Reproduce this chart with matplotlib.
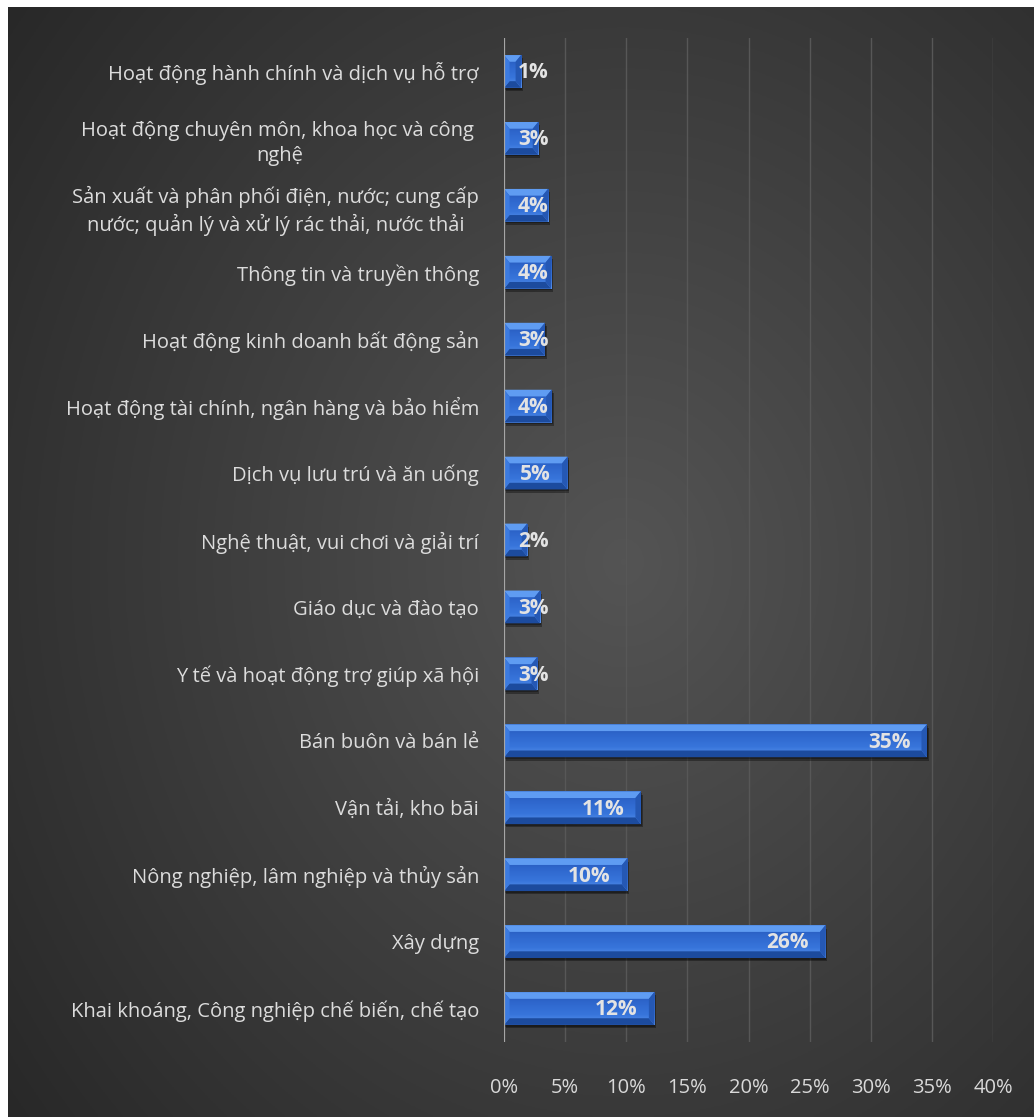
import numpy as np
import matplotlib
matplotlib.use('Agg')
import matplotlib.pyplot as plt
from matplotlib.patches import Polygon, Rectangle

plt.rcParams['font.family'] = ['Open Sans', 'DejaVu Sans']

# categories listed top to bottom
categories = [
    "Hoạt động hành chính và dịch vụ hỗ trợ",
    "Hoạt động chuyên môn, khoa học và công \nnghệ",
    "Sản xuất và phân phối điện, nước; cung cấp\nnước; quản lý và xử lý rác thải, nước thải",
    "Thông tin và truyền thông",
    "Hoạt động kinh doanh bất động sản",
    "Hoạt động tài chính, ngân hàng và bảo hiểm",
    "Dịch vụ lưu trú và ăn uống",
    "Nghệ thuật, vui chơi và giải trí",
    "Giáo dục và đào tạo",
    "Y tế và hoạt động trợ giúp xã hội",
    "Bán buôn và bán lẻ",
    "Vận tải, kho bãi",
    "Nông nghiệp, lâm nghiệp và thủy sản",
    "Xây dựng",
    "Khai khoáng, Công nghiệp chế biến, chế tạo",
]
values = [1.4, 2.8, 3.6, 3.85, 3.35, 3.9, 5.2, 1.9, 2.95, 2.7, 34.6, 11.2, 10.1, 26.3, 12.3]
xticks = [0, 5, 10, 15, 20, 25, 30, 35, 40]

W, H, DPI = 1034, 1117, 100
fig = plt.figure(figsize=(W / DPI, H / DPI), dpi=DPI)
fig.patch.set_facecolor('white')

# dark radial backdrop
bg = fig.add_axes([8 / W, 0, 1 - 8 / W, 1 - 7 / H])
bg.set_axis_off()
gx, gy = np.meshgrid(np.linspace(0, 1, 400), np.linspace(0, 1, 400))
r = np.sqrt(((gx - 0.6) / 0.75) ** 2 + ((gy - 0.5) / 0.8) ** 2)
shade = np.clip(0.33 - 0.17 * r, 0.15, 0.33)
bg.imshow(np.dstack([shade] * 3), extent=[0, 1, 0, 1], aspect='auto', origin='lower')
bg.set_xlim(0, 1)
bg.set_ylim(0, 1)

ax = fig.add_axes([504 / W, 1 - 1042 / H, (993 - 504) / W, (1042 - 38) / H])
ax.set_facecolor('none')
n = len(categories)
ypos = np.arange(n)[::-1]
ax.set_xlim(0, 40)
ax.set_ylim(-0.5, n - 0.5)

for t in xticks[1:]:
    ax.axvline(t, color='#575757', lw=1.0, zorder=0)
ax.axvline(0, color='#a6a6a6', lw=1.6, zorder=5)

bh = 0.49
dx = 0.45
dy = 0.1
face = np.array([[0.36, 0.58, 0.93], [0.22, 0.46, 0.86], [0.18, 0.40, 0.80], [0.15, 0.34, 0.70]])
for y, v in zip(ypos, values):
    x0, x1 = 0, v
    yb, yt = y - bh / 2, y + bh / 2
    # drop shadow
    ax.add_patch(Rectangle((x0 + 0.15, yb - 0.05), v, bh, color='black', alpha=0.35, lw=0, zorder=2))
    ax.add_patch(Rectangle((x0 + 0.08, yb - 0.025), v, bh, color='black', alpha=0.3, lw=0, zorder=2))
    # face with vertical gradient
    body = Rectangle((x0, yb), v, bh, facecolor='#2e6bd0', lw=0, zorder=3)
    ax.add_patch(body)
    grad = np.interp(np.linspace(0, 1, 50), [0, 0.3, 0.7, 1], [0, 1, 2, 3])
    cols = np.array([np.interp(grad, np.arange(4), face[:, c]) for c in range(3)]).T
    im = ax.imshow(cols[:, None, :], extent=[x0, x1, yt, yb], aspect='auto', zorder=3.5)
    im.set_clip_path(body)
    # bevels
    ax.add_patch(Polygon([(x0, yt), (x1, yt), (x1 - dx, yt - dy), (x0 + dx, yt - dy)],
                         closed=True, facecolor='#5f9cf2', lw=0, zorder=4))
    ax.add_patch(Polygon([(x0, yb), (x1, yb), (x1 - dx, yb + dy), (x0 + dx, yb + dy)],
                         closed=True, facecolor='#1c4b9e', lw=0, zorder=4))
    ax.add_patch(Polygon([(x1, yt), (x1, yb), (x1 - dx, yb + dy), (x1 - dx, yt - dy)],
                         closed=True, facecolor='#2558b4', lw=0, zorder=4))
    ax.add_patch(Polygon([(x0, yt), (x0, yb), (x0 + dx, yb + dy), (x0 + dx, yt - dy)],
                         closed=True, facecolor='#3c7be0', lw=0, zorder=4))
    lbl = f"{v:.0f}%"
    if v < 5:
        ax.annotate(lbl, (0, y), xytext=(10, -1), textcoords='offset points', ha='left', va='center',
                    color='#e3e3e3', fontsize=15, fontweight='bold', zorder=6)
    else:
        ax.annotate(lbl, (v, y), xytext=(-12, -1), textcoords='offset points', ha='right', va='center',
                    color='#e3e3e3', fontsize=15, fontweight='bold', zorder=6)

ax.set_yticks(ypos)
ax.set_yticklabels(categories, fontsize=14.5, color='#dcdcdc', multialignment='center', linespacing=1.35)
ax.set_xticks(xticks)
ax.set_xticklabels([f"{t}%" for t in xticks], fontsize=14.5, color='#d9d9d9')
ax.tick_params(axis='y', length=0, pad=18)
ax.tick_params(axis='x', length=0, pad=26)
for s in ax.spines.values():
    s.set_visible(False)

fig.savefig('out.png', dpi=DPI)
